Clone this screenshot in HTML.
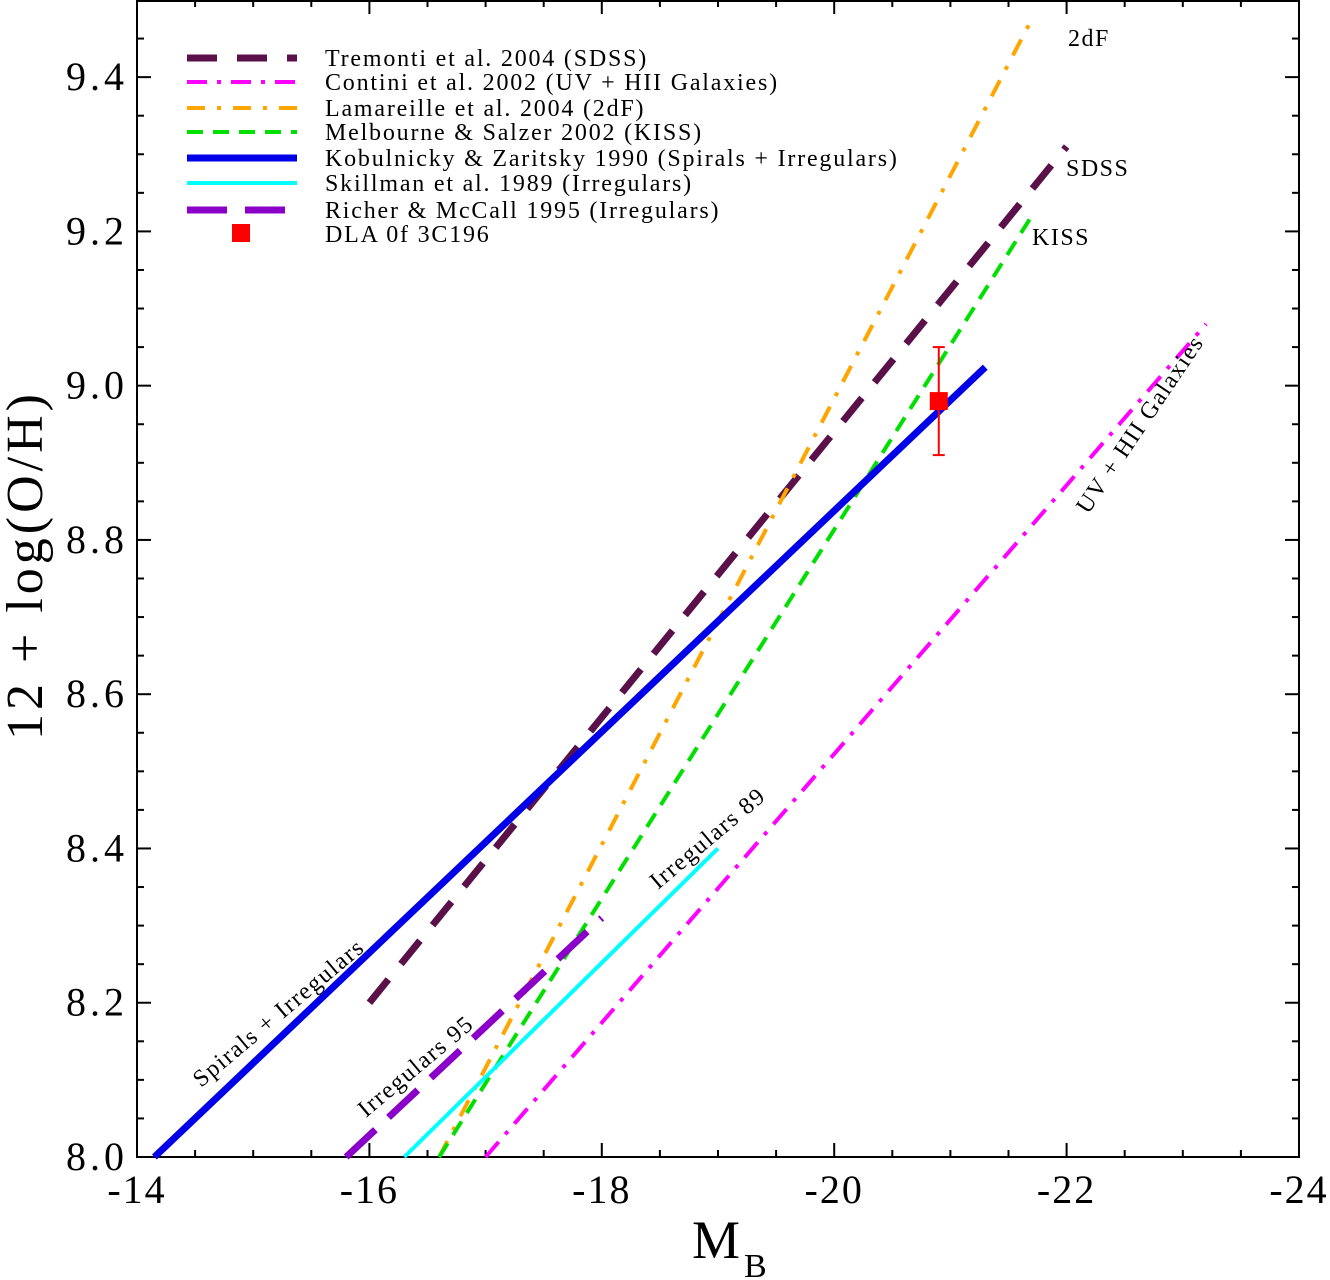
<!DOCTYPE html>
<html><head><meta charset="utf-8"><style>
body{margin:0;background:#fff}
svg{display:block;font-family:"Liberation Serif",serif}
</style></head><body>
<svg width="1330" height="1280" id="c"></svg>
<script>
const seriesNames=["Tremonti et al. 2004 (SDSS)","Contini et al. 2002 (UV + HII Galaxies)","Lamareille et al. 2004 (2dF)","Melbourne & Salzer 2002 (KISS)","Kobulnicky & Zaritsky 1990 (Spirals + Irregulars)","Skillman et al. 1989 (Irregulars)","Richer & McCall 1995 (Irregulars)"];
const seriesX=[[-16,-22],[-17,-23.2],[-16.6,-21.7],[-16.6,-21.7],[-14.15,-21.3],[-16.3,-19.0],[-15.8,-18.0]];
const seriesY=[[8.2,9.31],[8.0,9.08],[8.0,9.475],[8.0,9.22],[8.0,9.024],[8.0,8.40],[8.0,8.31]];
const dlaX=-20.9, dlaY=8.98, dlaErr=0.07;
const xTicks=[-14,-16,-18,-20,-22,-24];
const yTicks=[8.0,8.2,8.4,8.6,8.8,9.0,9.2,9.4];
const styles=[
 {c:"#5a1048",w:7,d:"30 20"},{c:"#ff00ff",w:4,d:"20 10 4 10"},{c:"#ffa500",w:4,d:"18 12 4 12"},
 {c:"#00e000",w:4,d:"16 10"},{c:"#0000e8",w:7,d:""},{c:"#00ffff",w:4,d:""},{c:"#8a00c8",w:7,d:"40 18"}];
const L=137,R=1299,T=0,B=1157;
const sx=v=>L+(v-(-14))/(-10)*(R-L);
const sy=v=>B-(v-8)/1.5*(B-T);
const svg=document.getElementById('c');const NS="http://www.w3.org/2000/svg";
function el(t,a,p){const e=document.createElementNS(NS,t);for(const k in a)e.setAttribute(k,a[k]);(p||svg).appendChild(e);return e;}
function txt(s,a){const e=el('text',a);e.textContent=s;return e;}
const fr=el('rect',{x:L,y:T+1,width:R-L,height:B-T-1,fill:"none",stroke:"#000","stroke-width":2});

for(let v=-14;v>=-24;v-=0.5){const x=sx(v);const maj=Math.abs(v%2)<1e-6;const len=maj?14:7;
 el('line',{x1:x,y1:B,x2:x,y2:B-len,stroke:"#000","stroke-width":2});
 el('line',{x1:x,y1:T,x2:x,y2:T+len,stroke:"#000","stroke-width":2});}
for(let i=0;i<=30;i++){const v=8+i*0.05;const y=sy(v);const maj=i%4==0;const len=maj?14:7;
 el('line',{x1:L,y1:y,x2:L+len,y2:y,stroke:"#000","stroke-width":2});
 el('line',{x1:R,y1:y,x2:R-len,y2:y,stroke:"#000","stroke-width":2});}
xTicks.forEach(v=>{const t=txt(String(v),{x:sx(v),y:1203,"font-size":40,"letter-spacing":2,"text-anchor":"middle"});
 });
yTicks.forEach(v=>{const t=txt(v.toFixed(1),{x:128,y:sy(v)+13,"font-size":40,"letter-spacing":4,"text-anchor":"end"});
 });
const xt=txt("M",{x:692,y:1258,"font-size":54});
const xs=txt("B",{x:744,y:1277,"font-size":34});
const yt=txt("12 + log(O/H)",{x:0,y:0,"font-size":52,"letter-spacing":4,"text-anchor":"middle",transform:"translate(42,565) rotate(-90)"});

seriesX.forEach((xs_,i)=>{const s=styles[i];
 const ln=el('line',{x1:sx(xs_[0]),y1:sy(seriesY[i][0]),x2:sx(xs_[1]),y2:sy(seriesY[i][1]),stroke:s.c,"stroke-width":s.w,"stroke-dasharray":s.d});
 });
const eb=el('g',{});
el('line',{x1:sx(dlaX),y1:sy(dlaY-dlaErr),x2:sx(dlaX),y2:sy(dlaY+dlaErr),stroke:"#f00","stroke-width":2},eb);
[dlaY-dlaErr,dlaY+dlaErr].forEach(v=>el('line',{x1:sx(dlaX)-6,y1:sy(v),x2:sx(dlaX)+6,y2:sy(v),stroke:"#f00","stroke-width":2},eb));
const pt=el('rect',{x:sx(dlaX)-9,y:sy(dlaY)-9,width:18,height:18,fill:"#f00"});

const rows=[58,82,108,132,158,183,210];
seriesNames.forEach((n,i)=>{const s=styles[i];
 const ln=el('line',{x1:187,y1:rows[i],x2:297,y2:rows[i],stroke:s.c,"stroke-width":s.w,"stroke-dasharray":s.d});
 
 const t=txt(n,{x:325,y:rows[i]+8,"font-size":24,"letter-spacing":1.8});});
const lm=el('rect',{x:232,y:224,width:18,height:18,fill:"#f00"});
const lt=txt("DLA 0f 3C196",{x:325,y:242,"font-size":24,"letter-spacing":1.8});
const ann=[["2dF",1068,46,0],["SDSS",1066,176,0],["KISS",1032,245,0],["UV + HII Galaxies",1088,515,-56],
 ["Irregulars 89",658,890,-40],["Irregulars 95",366,1118,-40],["Spirals + Irregulars",201,1088,-40]];
ann.forEach(a=>{const t=txt(a[0],{x:a[1],y:a[2],"font-size":24,"letter-spacing":1.5,transform:`rotate(${a[3]} ${a[1]} ${a[2]})`});
 });
</script>
</body></html>
